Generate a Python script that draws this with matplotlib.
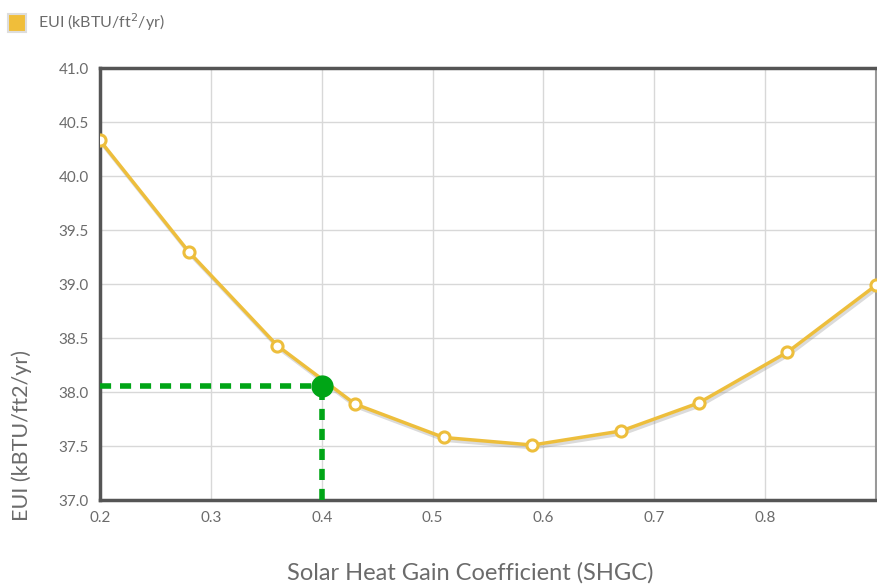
import matplotlib.pyplot as plt
import matplotlib.patheffects as pe
from matplotlib.patches import Rectangle

plt.rcParams['font.family'] = ['Lato', 'DejaVu Sans']

# SHGC vs EUI curve
shgc = [0.2, 0.28, 0.36, 0.43, 0.51, 0.59, 0.67, 0.74, 0.82, 0.9]
eui = [40.33, 39.30, 38.43, 37.89, 37.58, 37.51, 37.64, 37.90, 38.37, 38.99]

# selected point
sel_x = 0.4
sel_y = 38.06

x_ticks = [0.2, 0.3, 0.4, 0.5, 0.6, 0.7, 0.8]
y_ticks = [37.0, 37.5, 38.0, 38.5, 39.0, 39.5, 40.0, 40.5, 41.0]

line_color = "#EDBE3C"
text_color = "#6b6b6b"

fig = plt.figure(figsize=(8.77, 5.87), dpi=100)
ax = fig.add_axes([0.114, 0.148, 0.885, 0.736])

# line with a soft shadow, markers drawn on top
ax.plot(shgc, eui, color=line_color, lw=2.5, zorder=3,
        path_effects=[pe.SimpleLineShadow(offset=(1, -2), shadow_color="#888888", alpha=0.3), pe.Normal()])
ax.plot(shgc, eui, ls="none", marker="o", ms=8, mfc="white",
        mec=line_color, mew=2.2, zorder=3.5)

# green guide lines
ax.plot([0.2, sel_x], [sel_y, sel_y], color="#00A516", lw=4, ls=(0, (2, 1.6)), zorder=4)
ax.plot([sel_x, sel_x], [37.0, sel_y], color="#00A516", lw=4, ls=(0, (2, 1.6)), zorder=4)
ax.plot([sel_x], [sel_y], marker="o", ms=15, color="#00A516", zorder=5)

ax.set_xlim(0.2, 0.9)
ax.set_ylim(37.0, 41.0)
ax.set_xticks(x_ticks)
ax.set_yticks(y_ticks)
ax.set_xticklabels([f"{v:.1f}" for v in x_ticks])
ax.set_yticklabels([f"{v:.1f}" for v in y_ticks])
ax.tick_params(length=0, labelsize=11, colors=text_color, pad=8)
ax.grid(True, color="#D8D8D8", lw=1)
ax.set_axisbelow(True)

for side in ["left", "bottom", "top"]:
    ax.spines[side].set_color("#555555")
    ax.spines[side].set_linewidth(2.5)
ax.spines["right"].set_color("#999999")
ax.spines["right"].set_linewidth(1.5)

ax.set_xlabel("Solar Heat Gain Coefficient (SHGC)", fontsize=17, color=text_color)
ax.xaxis.label.set_va("center")
ax.xaxis.set_label_coords(0.477, -0.168)
ax.set_ylabel("EUI (kBTU/ft2/yr)", fontsize=15.5, color=text_color)
ax.yaxis.label.set_va("center")
ax.yaxis.set_label_coords(-0.101, 0.15)

# legend
fig.patches.append(Rectangle((8 / 877, 1 - 32 / 587), 18 / 877, 18 / 587,
                             transform=fig.transFigure, facecolor="#F0BE3A",
                             edgecolor="#DDDDDD", lw=1.5))
fig.text(38 / 877, 1 - 22 / 587, "EUI (kBTU/ft$^2$/yr)", fontsize=11.5,
         color=text_color, va="center")

fig.savefig("out.png", dpi=100)
